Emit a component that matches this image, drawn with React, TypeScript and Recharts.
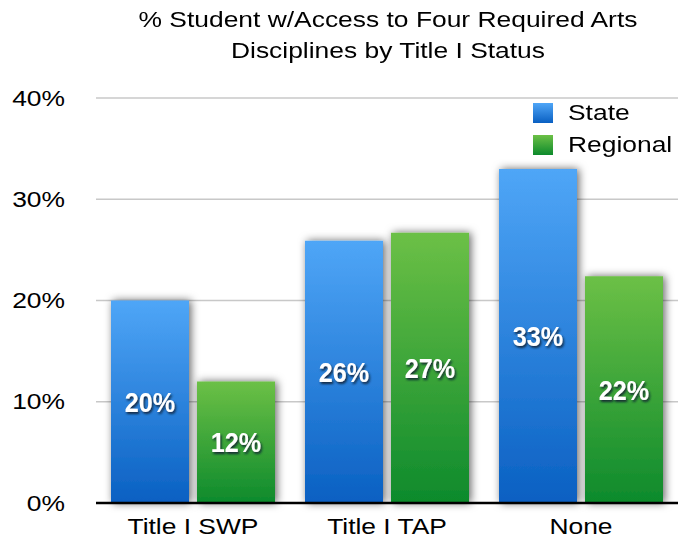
import { BarChart, Bar, XAxis, YAxis, CartesianGrid, LabelList } from 'recharts';

const categories = ['Title I SWP', 'Title I TAP', 'None'];
const stateValues = [20, 25.9, 33];
const regionalValues = [12, 26.7, 22.4];
const yTicks = [0, 10, 20, 30, 40];

const data = categories.map((name, i) => ({
  name,
  state: stateValues[i],
  regional: regionalValues[i],
}));

const FONT = '"Liberation Sans", Arial, Helvetica, sans-serif';
// the reference text is a little wider than Helvetica, so stretch it
const STRETCH = 1.2;

const XTick = (props: any) => {
  const { x, y, payload } = props;
  return (
    <g transform={`translate(${x},${y})`}>
      <text transform={`scale(${STRETCH},1)`} textAnchor="middle" dy="0.71em" fill="#000" fontSize={22}>
        {payload.value}
      </text>
    </g>
  );
};

const YTick = (props: any) => {
  const { x, y, payload } = props;
  return (
    <g transform={`translate(${x},${y})`}>
      <text transform={`scale(${STRETCH},1)`} textAnchor="end" dy="0.35em" fill="#000" fontSize={22}>
        {`${payload.value}%`}
      </text>
    </g>
  );
};

// white bold label with a dark drop shadow, centred in the bar
const BarValueLabel = (props: any) => {
  const { x, y, width, height, value } = props;
  const cx = x + width / 2;
  const cy = y + height / 2;
  return (
    <g transform={`translate(${cx},${cy})`}>
      <text
        transform="scale(0.9,1)"
        textAnchor="middle"
        dy="0.36em"
        fill="#ffffff"
        filter="url(#labelShadow)"
        style={{ fontFamily: FONT, fontWeight: 700, fontSize: 28 }}
      >
        {`${Math.round(value)}%`}
      </text>
    </g>
  );
};

const legendItems = [
  { label: 'State', grad: 'linear-gradient(#4fa6f7, #0a60c2)' },
  { label: 'Regional', grad: 'linear-gradient(#6cc046, #0d8a2c)' },
];

export default function App() {
  return (
    <div style={{ position: 'absolute', left: 0, top: 0, width: 687, height: 542, background: '#fff', fontFamily: FONT }}>
      <div
        style={{
          position: 'absolute',
          left: 88,
          top: 4,
          width: 600,
          textAlign: 'center',
          fontSize: 22,
          lineHeight: '31px',
          color: '#000',
          transform: `scaleX(${STRETCH})`,
          transformOrigin: '300px 0',
        }}
      >
        % Student w/Access to Four Required Arts
        <br />
        Disciplines by Title I Status
      </div>
      <BarChart
        width={687}
        height={542}
        data={data}
        margin={{ top: 98, right: 9, left: 0, bottom: 0 }}
        barCategoryGap={15}
        barGap={8}
        style={{ fontFamily: FONT }}
      >
        <defs>
          <linearGradient id="gradState" x1="0" y1="0" x2="0" y2="1">
            <stop offset="0%" stopColor="#4fa6f7" />
            <stop offset="100%" stopColor="#0a60c2" />
          </linearGradient>
          <linearGradient id="gradRegional" x1="0" y1="0" x2="0" y2="1">
            <stop offset="0%" stopColor="#6cc046" />
            <stop offset="100%" stopColor="#0d8a2c" />
          </linearGradient>
          <filter id="barShadow" x="-20%" y="-20%" width="140%" height="140%">
            <feDropShadow dx="2" dy="0" stdDeviation="4" floodColor="#000" floodOpacity="0.6" />
          </filter>
          <filter id="labelShadow" x="-20%" y="-30%" width="140%" height="160%">
            <feDropShadow dx="1.5" dy="2" stdDeviation="1.2" floodColor="#0a1a33" floodOpacity="0.9" />
          </filter>
        </defs>
        <CartesianGrid vertical={false} stroke="#c8c8c8" strokeWidth={1.5} />
        <XAxis
          dataKey="name"
          height={39}
          tickLine={false}
          tickMargin={9}
          axisLine={{ stroke: '#000', strokeWidth: 2.5 }}
          tick={<XTick />}
        />
        <YAxis
          width={96}
          domain={[0, 40]}
          ticks={yTicks}
          axisLine={false}
          tickLine={false}
          tickMargin={25}
          tick={<YTick />}
        />
        <Bar dataKey="state" name="State" fill="url(#gradState)" filter="url(#barShadow)" isAnimationActive={false}>
          <LabelList dataKey="state" content={<BarValueLabel />} />
        </Bar>
        <Bar dataKey="regional" name="Regional" fill="url(#gradRegional)" filter="url(#barShadow)" isAnimationActive={false}>
          <LabelList dataKey="regional" content={<BarValueLabel />} />
        </Bar>
      </BarChart>
      <div style={{ position: 'absolute', left: 533, top: 97, fontSize: 22, color: '#000' }}>
        {legendItems.map((item) => (
          <div key={item.label} style={{ display: 'flex', alignItems: 'center', height: 32 }}>
            <span style={{ width: 20, height: 20, background: item.grad, display: 'inline-block', marginRight: 15 }} />
            <span style={{ display: 'inline-block', transform: `scaleX(${STRETCH})`, transformOrigin: '0 50%' }}>
              {item.label}
            </span>
          </div>
        ))}
      </div>
    </div>
  );
}
